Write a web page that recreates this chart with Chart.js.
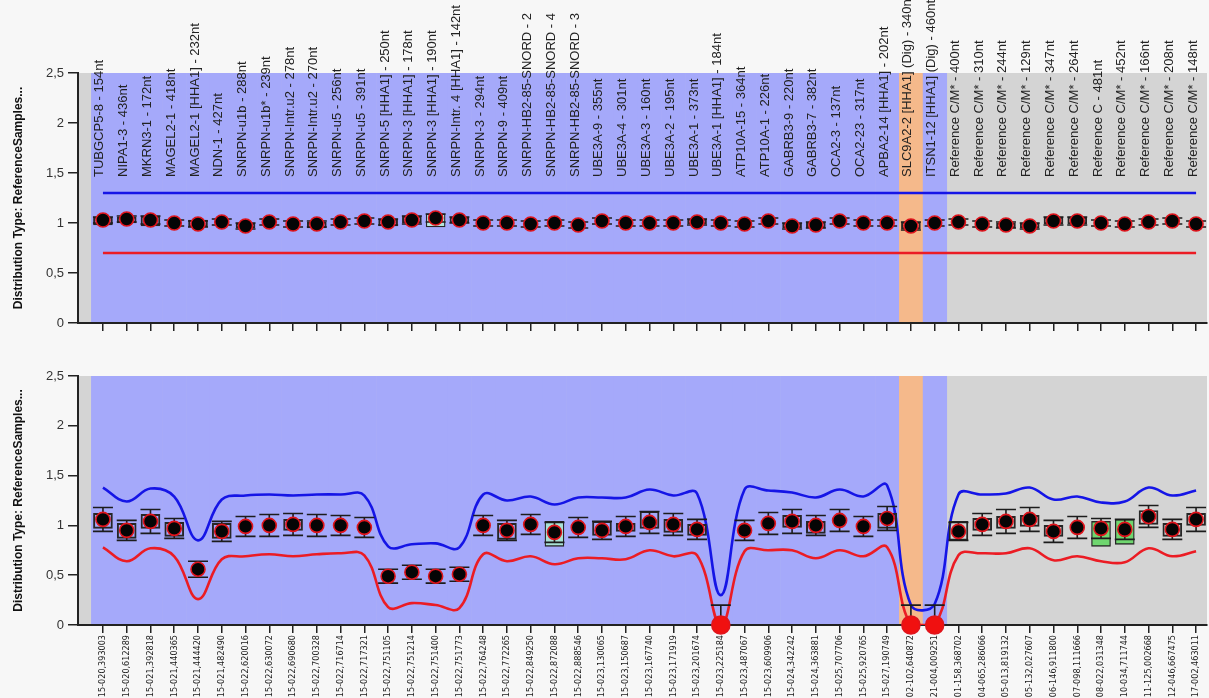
<!DOCTYPE html>
<html><head><meta charset="utf-8">
<script src="https://cdn.jsdelivr.net/npm/chart.js@4.4.1/dist/chart.umd.min.js"></script>
<style>
html,body{margin:0;padding:0;background:#f7f7f7;}
#wrap{position:relative;width:1209px;height:698px;overflow:hidden;background:#f7f7f7;}
#c1{position:absolute;left:0;top:0;}
#c2{position:absolute;left:0;top:345px;}
</style></head><body>
<div id="wrap">
<canvas id="c1" width="1209" height="345"></canvas>
<canvas id="c2" width="1209" height="353"></canvas>
</div>
<script>
// ---------- DATA ----------
const probeNames = ['TUBGCP5-8 - 154nt','NIPA1-3 - 436nt','MKRN3-1 - 172nt','MAGEL2-1 - 418nt','MAGEL2-1 [HHA1] - 232nt','NDN-1 - 427nt','SNRPN-u1b - 288nt','SNRPN-u1b* - 239nt','SNRPN-Intr.u2 - 278nt','SNRPN-Intr.u2 - 270nt','SNRPN-u5 - 256nt','SNRPN-u5 - 391nt','SNRPN-5 [HHA1] - 250nt','SNRPN-3 [HHA1] - 178nt','SNRPN-3 [HHA1] - 190nt','SNRPN-Intr. 4 [HHA1] - 142nt','SNRPN-3 - 294nt','SNRPN-9 - 409nt','SNRPN-HB2-85-SNORD - 2','SNRPN-HB2-85-SNORD - 4','SNRPN-HB2-85-SNORD - 3','UBE3A-9 - 355nt','UBE3A-4 - 301nt','UBE3A-3 - 160nt','UBE3A-2 - 195nt','UBE3A-1 - 373nt','UBE3A-1 [HHA1] - 184nt','ATP10A-15 - 364nt','ATP10A-1 - 226nt','GABRB3-9 - 220nt','GABRB3-7 - 382nt','OCA2-3 - 137nt','OCA2-23 - 317nt','APBA2-14 [HHA1] - 202nt','SLC9A2-2 [HHA1] (Dig) - 340nt','ITSN1-12 [HHA1] (Dig) - 460nt','Reference C/M* - 400nt','Reference C/M* - 310nt','Reference C/M* - 244nt','Reference C/M* - 129nt','Reference C/M* - 347nt','Reference C/M* - 264nt','Reference C - 481nt','Reference C/M* - 452nt','Reference C/M* - 166nt','Reference C/M* - 208nt','Reference C/M* - 148nt'];

const sampleIds = ['15-020,393003','15-020,612289','15-021,392818','15-021,440365','15-021,444420','15-021,482490','15-022,620016','15-022,630072','15-022,690680','15-022,700328','15-022,716714','15-022,717321','15-022,751105','15-022,751214','15-022,751400','15-022,751773','15-022,764248','15-022,772265','15-022,849250','15-022,872088','15-022,888546','15-023,130065','15-023,150687','15-023,167740','15-023,171919','15-023,201674','15-023,225184','15-023,487067','15-023,609906','15-024,342242','15-024,363881','15-025,707706','15-025,920765','15-027,190749','02-102,640872','21-004,009251','01-158,368702','04-065,286066','05-013,819132','05-132,027607','06-146,911800','07-098,111666','08-022,031348','10-034,711744','11-125,002668','12-046,667475','17-002,463011'];

// probe group: T = test probe, D = digestion control, R = reference probe
const probeGroup = ['T','T','T','T','T','T','T','T','T','T','T','T','T','T','T','T','T','T','T','T','T','T','T','T','T','T','T','T','T','T','T','T','T','T','D','T','R','R','R','R','R','R','R','R','R','R','R'];

const yTicks = [0, 0.5, 1, 1.5, 2, 2.5];

// top panel
const topRatio = [1.03,1.04,1.03,1.00,0.99,1.01,0.97,1.01,0.99,0.99,1.01,1.02,1.01,1.03,1.05,1.03,1.00,1.00,0.99,1.00,0.98,1.02,1.00,1.00,1.00,1.01,1.00,0.99,1.02,0.97,0.98,1.02,1.00,1.00,0.97,1.00,1.01,0.99,0.98,0.97,1.02,1.02,1.00,0.99,1.01,1.02,0.99];
const topErr = [0.03,0.03,0.04,0.03,0.03,0.03,0.03,0.03,0.03,0.03,0.03,0.03,0.03,0.04,0.04,0.03,0.03,0.03,0.03,0.03,0.03,0.03,0.03,0.03,0.03,0.03,0.03,0.03,0.03,0.03,0.03,0.03,0.03,0.03,0.04,0.03,0.03,0.03,0.03,0.03,0.04,0.04,0.03,0.03,0.03,0.03,0.03];
const topBoxLo = [0.98,1.00,0.97,null,0.96,null,0.95,null,null,0.95,null,null,0.97,1.00,0.96,1.00,null,null,null,null,null,null,null,null,null,0.99,null,null,null,0.95,0.95,null,null,null,0.94,null,null,null,0.95,0.95,0.99,0.99,null,null,null,null,null];
const topBoxHi = [1.06,1.06,1.07,null,1.03,null,1.00,null,null,1.01,null,null,1.04,1.07,1.09,1.06,null,null,null,null,null,null,null,null,null,1.04,null,null,null,1.00,1.01,null,null,null,1.01,null,null,null,1.00,1.00,1.06,1.06,null,null,null,null,null];
const topBoxFill = [null,null,null,null,null,null,null,null,null,null,null,null,null,null,'#b6e6dc',null,null,null,null,null,null,null,null,null,null,null,null,null,null,null,null,null,null,null,null,null,null,null,null,null,null,null,null,null,null,null,null];
const topUpper = [1.3,1.3,1.3,1.3,1.3,1.3,1.3,1.3,1.3,1.3,1.3,1.3,1.3,1.3,1.3,1.3,1.3,1.3,1.3,1.3,1.3,1.3,1.3,1.3,1.3,1.3,1.3,1.3,1.3,1.3,1.3,1.3,1.3,1.3,1.3,1.3,1.3,1.3,1.3,1.3,1.3,1.3,1.3,1.3,1.3,1.3,1.3];
const topLower = [0.7,0.7,0.7,0.7,0.7,0.7,0.7,0.7,0.7,0.7,0.7,0.7,0.7,0.7,0.7,0.7,0.7,0.7,0.7,0.7,0.7,0.7,0.7,0.7,0.7,0.7,0.7,0.7,0.7,0.7,0.7,0.7,0.7,0.7,0.7,0.7,0.7,0.7,0.7,0.7,0.7,0.7,0.7,0.7,0.7,0.7,0.7];

// bottom panel
const botRatio = [1.06,0.95,1.04,0.97,0.56,0.94,0.99,1.00,1.01,1.00,1.00,0.98,0.49,0.53,0.49,0.51,1.00,0.95,1.01,0.93,0.98,0.95,0.99,1.03,1.01,0.96,0,0.95,1.02,1.04,1.00,1.05,0.99,1.07,0,0,0.94,1.01,1.04,1.06,0.94,0.98,0.97,0.96,1.09,0.96,1.06];
const botErr = [0.12,0.10,0.12,0.10,0.08,0.10,0.10,0.11,0.11,0.11,0.10,0.10,0.07,0.07,0.07,0.07,0.10,0.10,0.10,0.10,0.10,0.09,0.10,0.11,0.11,0.10,0.20,0.10,0.11,0.12,0.10,0.11,0.10,0.12,0.20,0.20,0.09,0.11,0.12,0.12,0.11,0.11,0.10,0.10,0.11,0.10,0.12];
const botBoxLo = [0.97,0.87,0.97,0.89,null,0.87,null,null,0.95,null,null,null,null,null,null,null,null,0.86,null,0.79,null,0.90,0.94,0.97,0.93,0.90,null,null,null,0.98,0.92,null,null,0.97,null,null,0.85,0.95,0.97,0.99,0.89,null,0.79,0.81,1.01,0.89,1.00];
const botBoxHi = [1.12,1.02,1.11,1.03,null,1.02,null,null,1.06,null,null,null,null,null,null,null,null,1.02,null,1.04,null,1.04,1.02,1.14,1.06,1.01,null,null,null,1.10,1.04,null,null,1.12,null,null,1.04,1.07,1.09,1.10,1.00,null,1.04,1.06,1.15,1.02,1.12];
const botBoxFill = [null,null,null,null,null,null,null,null,null,null,null,null,null,null,null,null,null,null,null,'#a9e2d6',null,null,null,null,null,null,null,null,null,null,null,null,null,null,null,null,null,null,null,null,null,null,'#6fd66f','#6fd66f',null,null,null];
const botUpper = [1.38,1.24,1.37,1.29,0.85,1.26,1.30,1.31,1.30,1.31,1.31,1.30,0.79,0.81,0.82,0.78,1.31,1.25,1.29,1.21,1.28,1.28,1.28,1.36,1.30,1.32,0.30,1.36,1.35,1.33,1.28,1.36,1.29,1.40,0.20,0.21,1.31,1.31,1.32,1.38,1.26,1.29,1.23,1.24,1.38,1.30,1.35];
const botLower = [0.78,0.64,0.77,0.69,0.26,0.66,0.69,0.71,0.69,0.71,0.72,0.70,0.18,0.22,0.20,0.17,0.71,0.64,0.69,0.61,0.67,0.67,0.66,0.75,0.69,0.70,0.00,0.74,0.75,0.75,0.67,0.75,0.69,0.78,0.00,0.00,0.70,0.72,0.72,0.77,0.65,0.69,0.64,0.63,0.77,0.69,0.74];

// ---------- STYLE ----------
const FONT = "'Liberation Sans', Arial, sans-serif";
const NARROW = "'Liberation Sans Narrow', 'DejaVu Sans Condensed', 'Liberation Sans', Arial, sans-serif";
const C_BLUE_BG = '#a5a9fa', C_GREY_BG = '#d4d4d4', C_DIG_BG = '#f5b98b';
const C_UP = '#1515e6', C_LO = '#eb1c24';
const X_MIN = -1.05, X_MAX = 46.46;

const bandPlugin = {
  id: 'bands',
  beforeDraw(chart) {
    const {ctx, chartArea: a, scales: {x}} = chart;
    ctx.save();
    ctx.fillStyle = C_GREY_BG;
    ctx.fillRect(a.left, a.top, a.width, a.height);
    probeGroup.forEach((g, i) => {
      if (g === 'R') return;
      const l = x.getPixelForValue(i - 0.5), r = x.getPixelForValue(i + 0.5);
      ctx.fillStyle = g === 'D' ? C_DIG_BG : C_BLUE_BG;
      ctx.fillRect(l, a.top, r - l + 0.5, a.height);
    });
    ctx.restore();
  }
};

const errPlugin = {
  id: 'errbars',
  beforeDatasetDraw(chart, args) {
    const ds = chart.data.datasets[args.index];
    if (ds.role !== 'points') return;
    const {ctx, chartArea: a, scales: {x, y}} = chart;
    ctx.save();
    ctx.beginPath(); ctx.rect(a.left, a.top, a.width, a.height); ctx.clip();
    ctx.strokeStyle = '#1c1c1c'; ctx.lineWidth = 1.6;
    ds.vals.forEach((v, i) => {
      const e = ds.errs[i];
      const px = x.getPixelForValue(i);
      const yt = y.getPixelForValue(v + e), yb = y.getPixelForValue(v - e);
      const hw = 10;
      ctx.beginPath();
      ctx.moveTo(px, yt); ctx.lineTo(px, yb);
      ctx.moveTo(px - hw, yt); ctx.lineTo(px + hw, yt);
      ctx.moveTo(px - hw, yb); ctx.lineTo(px + hw, yb);
      ctx.stroke();
    });
    ctx.restore();
  }
};

const topLabelPlugin = {
  id: 'toplabels',
  afterDraw(chart) {
    if (!chart.options.plugins.toplabels || !chart.options.plugins.toplabels.show) return;
    const {ctx, scales: {x}} = chart;
    ctx.save();
    ctx.font = '13px ' + FONT;
    ctx.fillStyle = '#222';
    ctx.textAlign = 'left';
    ctx.textBaseline = 'alphabetic';
    probeNames.forEach((t, i) => {
      ctx.save();
      ctx.translate(x.getPixelForValue(i) + 0.5, 177);
      ctx.rotate(-Math.PI / 2);
      ctx.fillText(t, 0, 0);
      ctx.restore();
    });
    ctx.restore();
  }
};

function makeChart(canvasId, o) {
  const pts = o.ratio.map((v, i) => ({x: i, y: v}));
  const boxes = [], boxColors = [];
  o.boxLo.forEach((lo, i) => {
    if (lo === null) return;
    boxes.push({x: i, y: [lo, o.boxHi[i]]});
    boxColors.push(o.boxFill[i] || 'rgba(0,0,0,0)');
  });
  return new Chart(document.getElementById(canvasId), {
    type: 'scatter',
    data: {
      datasets: [
        {type: 'line', data: o.upper.map((v, i) => ({x: i, y: v})), borderColor: C_UP, borderWidth: 2.6, pointRadius: 0, tension: o.tension, order: 4},
        {type: 'line', data: o.lower.map((v, i) => ({x: i, y: v})), borderColor: C_LO, borderWidth: 2.6, pointRadius: 0, tension: o.tension, order: 3},
        {type: 'bar', data: boxes, backgroundColor: boxColors, borderColor: '#262626', borderWidth: 1.3, borderSkipped: false, barThickness: 19, grouped: false, order: 2},
        {type: 'scatter', role: 'points', vals: o.ratio, errs: o.err, data: pts,
          pointRadius: c => (c.raw && c.raw.y === 0) ? 9 : 7,
          pointBackgroundColor: c => (c.raw && c.raw.y === 0) ? '#f01010' : '#050505',
          pointBorderColor: '#e0141c', pointBorderWidth: 1.6, clip: false, order: 0}
      ]
    },
    options: {
      responsive: false, animation: false, events: [],
      layout: {autoPadding: false, padding: {top: o.padTop, right: 2, left: 0, bottom: 0}},
      plugins: {legend: {display: false}, tooltip: {enabled: false}, toplabels: {show: o.topLabels}},
      scales: {
        x: {
          type: 'linear', min: X_MIN, max: X_MAX, offset: false,
          afterBuildTicks: s => { s.ticks = sampleIds.map((_, i) => ({value: i})); },
          afterFit: s => { s.height = o.xHeight; },
          grid: {offset: false, drawOnChartArea: false, drawTicks: true, tickLength: 8, color: '#222', lineWidth: 1.5},
          border: {display: true, color: '#222', width: 2},
          ticks: o.bottomLabels ? {
            autoSkip: false, minRotation: 90, maxRotation: 90, padding: 2, color: '#1a1a1a',
            font: {size: 9, family: NARROW},
            callback: v => sampleIds[v] !== undefined ? sampleIds[v] : ''
          } : {display: false}
        },
        y: {
          min: 0, max: 2.5, offset: false,
          afterBuildTicks: s => { s.ticks = yTicks.map(v => ({value: v})); },
          afterFit: s => { s.width = 78; },
          grid: {drawOnChartArea: false, drawTicks: true, tickLength: 10, color: '#222', lineWidth: 1.5},
          border: {display: true, color: '#222', width: 2},
          ticks: {color: '#333', padding: 4, font: {size: 13, family: FONT}, callback: v => String(v).replace('.', ',')},
          title: {display: true, text: 'Distribution Type: ReferenceSamples...', color: '#111', font: {size: 12, weight: 'bold', family: FONT}, padding: {top: 11, bottom: 0}}
        }
      }
    },
    plugins: [bandPlugin, errPlugin, topLabelPlugin]
  });
}

makeChart('c1', {ratio: topRatio, err: topErr, boxLo: topBoxLo, boxHi: topBoxHi, boxFill: topBoxFill, upper: topUpper, lower: topLower, tension: 0, padTop: 73, xHeight: 22, bottomLabels: false, topLabels: true});
makeChart('c2', {ratio: botRatio, err: botErr, boxLo: botBoxLo, boxHi: botBoxHi, boxFill: botBoxFill, upper: botUpper, lower: botLower, tension: 0.4, padTop: 31, xHeight: 73, bottomLabels: true, topLabels: false});
</script>
</body></html>
